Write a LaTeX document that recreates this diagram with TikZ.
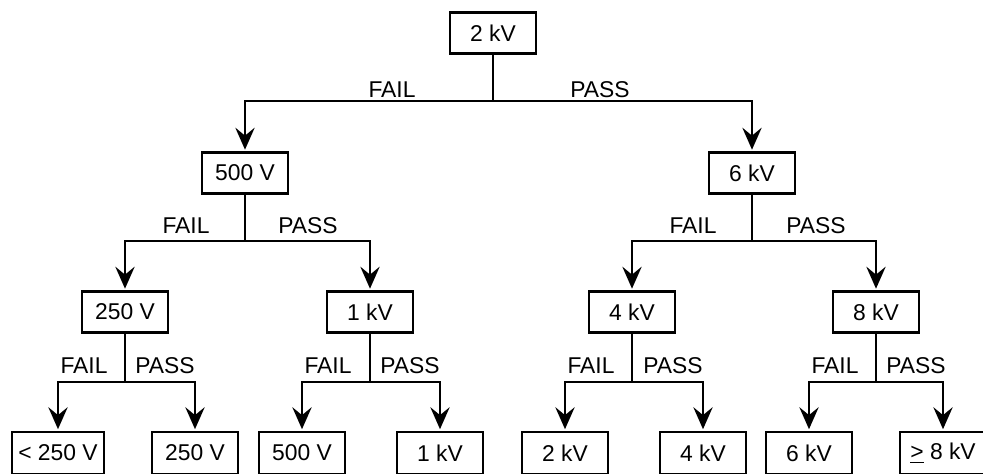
\documentclass[tikz,border=0pt]{standalone}
\usepackage{fontspec}
\setmainfont{Liberation Sans}
\usetikzlibrary{arrows.meta}

\begin{document}
\begin{tikzpicture}[>={Stealth[length=12.5pt,width=11pt,inset=4.5pt]}, line width=1.2pt, font=\fontsize{13}{15}\selectfont]
\tikzstyle{block} = [draw, rectangle, minimum height=0.82cm, minimum width=1.72cm, inner sep=2pt]
\tikzstyle{leaf} = [block, minimum height=0.84cm]
\tikzstyle{lbl} = [inner sep=0pt, anchor=base]
\tikzstyle{branch} = [->, shorten >=1pt]

\useasboundingbox (0,0) rectangle (19.66,-9.46);

    % the test levels
    \node [block] (t2kv) at (9.86,-0.66) {2 kV};
    \node [block] (t500v) at (4.90,-3.46) {500 V};
    \node [block] (t6kv) at (15.04,-3.46) {6 kV};
    \node [block] (t250v) at (2.50,-6.24) {250 V};
    \node [block] (t1kv) at (7.40,-6.24) {1 kV};
    \node [block] (t4kv) at (12.64,-6.24) {4 kV};
    \node [block] (t8kv) at (17.52,-6.24) {8 kV};

    % the results
    \node [leaf, minimum width=1.84cm] (rlow) at (1.16,-9.06) {< 250 V};
    \node [leaf] (r250v) at (3.90,-9.06) {250 V};
    \node [leaf] (r500v) at (6.04,-9.06) {500 V};
    \node [leaf] (r1kv) at (8.80,-9.06) {1 kV};
    \node [leaf] (r2kv) at (11.30,-9.06) {2 kV};
    \node [leaf] (r4kv) at (14.06,-9.06) {4 kV};
    \node [leaf] (r6kv) at (16.18,-9.06) {6 kV};
    \node [leaf] (rhigh) at (18.86,-9.06) {\underline{>} 8 kV};

    % junctions below each test
    \path (t2kv.south) ++(0,-0.92) coordinate (j2kv);
    \path (t500v.south) ++(0,-0.92) coordinate (j500v);
    \path (t6kv.south) ++(0,-0.92) coordinate (j6kv);
    \path (t250v.south) ++(0,-0.96) coordinate (j250v);
    \path (t1kv.south) ++(0,-0.96) coordinate (j1kv);
    \path (t4kv.south) ++(0,-0.96) coordinate (j4kv);
    \path (t8kv.south) ++(0,-0.96) coordinate (j8kv);

    % branches
    \draw (t2kv) -- (j2kv);
    \draw [branch] (j2kv) -| (t500v);
    \draw [branch] (j2kv) -| (t6kv);
    \draw (t500v) -- (j500v);
    \draw [branch] (j500v) -| (t250v);
    \draw [branch] (j500v) -| (t1kv);
    \draw (t6kv) -- (j6kv);
    \draw [branch] (j6kv) -| (t4kv);
    \draw [branch] (j6kv) -| (t8kv);
    \draw (t250v) -- (j250v);
    \draw [branch] (j250v) -| (rlow);
    \draw [branch] (j250v) -| (r250v);
    \draw (t1kv) -- (j1kv);
    \draw [branch] (j1kv) -| (r500v);
    \draw [branch] (j1kv) -| (r1kv);
    \draw (t4kv) -- (j4kv);
    \draw [branch] (j4kv) -| (r2kv);
    \draw [branch] (j4kv) -| (r4kv);
    \draw (t8kv) -- (j8kv);
    \draw [branch] (j8kv) -| (r6kv);
    \draw [branch] (j8kv) -| (rhigh);

    % FAIL / PASS labels
    \node [lbl] (f2kv) at ([xshift=-2.02cm, yshift=0.06cm]j2kv) {FAIL};
    \node [lbl] (p2kv) at ([xshift=2.14cm, yshift=0.06cm]j2kv) {PASS};
    \node [lbl] (f500v) at ([xshift=-1.18cm, yshift=0.14cm]j500v) {FAIL};
    \node [lbl] (p500v) at ([xshift=1.26cm, yshift=0.14cm]j500v) {PASS};
    \node [lbl] (f6kv) at ([xshift=-1.18cm, yshift=0.14cm]j6kv) {FAIL};
    \node [lbl] (p6kv) at ([xshift=1.28cm, yshift=0.14cm]j6kv) {PASS};
    \node [lbl] (f250v) at ([xshift=-0.82cm, yshift=0.16cm]j250v) {FAIL};
    \node [lbl] (p250v) at ([xshift=0.80cm, yshift=0.16cm]j250v) {PASS};
    \node [lbl] (f1kv) at ([xshift=-0.84cm, yshift=0.16cm]j1kv) {FAIL};
    \node [lbl] (p1kv) at ([xshift=0.80cm, yshift=0.16cm]j1kv) {PASS};
    \node [lbl] (f4kv) at ([xshift=-0.82cm, yshift=0.16cm]j4kv) {FAIL};
    \node [lbl] (p4kv) at ([xshift=0.82cm, yshift=0.16cm]j4kv) {PASS};
    \node [lbl] (f8kv) at ([xshift=-0.82cm, yshift=0.16cm]j8kv) {FAIL};
    \node [lbl] (p8kv) at ([xshift=0.80cm, yshift=0.16cm]j8kv) {PASS};

\end{tikzpicture}
\end{document}
